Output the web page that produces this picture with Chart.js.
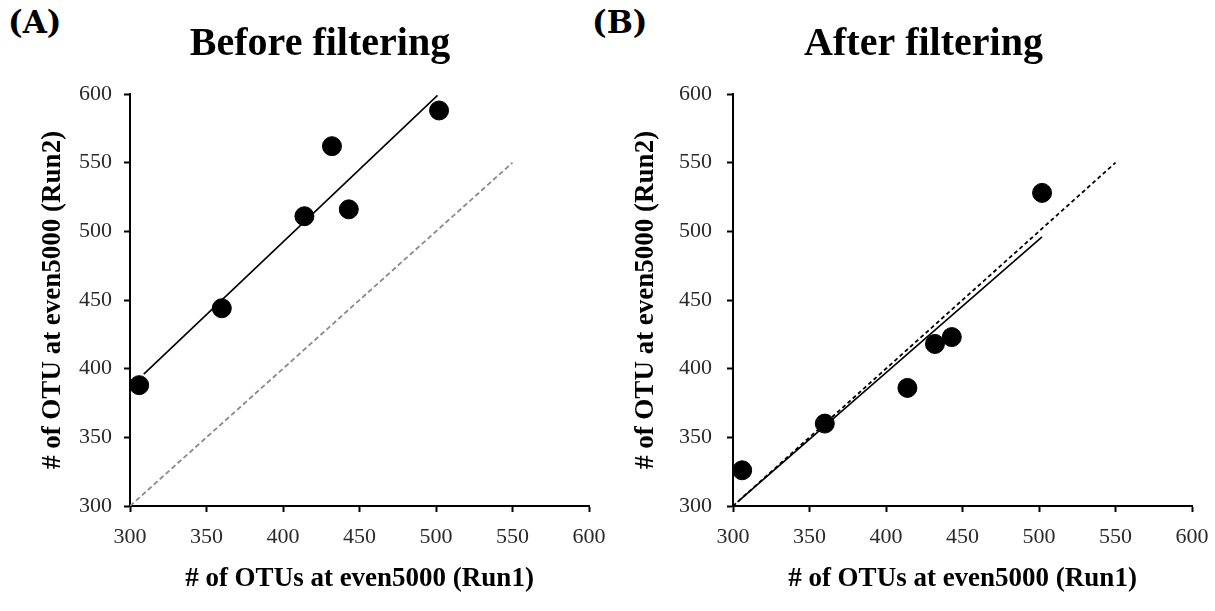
<!DOCTYPE html>
<html>
<head>
<meta charset="utf-8">
<script src="https://cdn.jsdelivr.net/npm/chart.js@4.4.1/dist/chart.umd.min.js"></script>
<style>
  body { margin: 0; background: #fff; width: 1215px; height: 611px; position: relative; overflow: hidden; }
  .panel { position: absolute; top: 0; height: 611px; }
  .tag { position: absolute; top: 4px; font: bold 31px "DejaVu Serif", serif; color: #000; }
</style>
</head>
<body>
<div class="tag" style="left:8px">(A)</div>
<div class="tag" style="left:592px">(B)</div>
<div class="panel" style="left:0px;width:607px"><canvas id="chartA"></canvas></div>
<div class="panel" style="left:607px;width:608px"><canvas id="chartB"></canvas></div>
<script>
// OTU counts per sample
const run1 = [306, 360, 414, 432, 443, 502];
const run2Before = [388, 444, 511, 562, 516, 588];
const run2After = [326, 360, 386, 418, 423, 528];

// trend lines (end points) and the 1:1 line
const fitBeforeX = [309, 501];
const fitBeforeY = [396, 599];
const fitAfterX = [303, 502];
const fitAfterY = [303, 496];
const identityX = [300, 550];
const identityY = [300, 550];

const axisTicks = [300, 350, 400, 450, 500, 550, 600];

const serif = "'Liberation Serif', 'Times New Roman', serif";

function pts(xs, ys) {
  return xs.map((x, i) => ({ x: x, y: ys[i] }));
}

function makeChart(canvas, o) {
  return new Chart(canvas, {
    type: 'scatter',
    data: {
      datasets: [
        {
          label: 'samples',
          data: pts(run1, o.run2),
          backgroundColor: '#000',
          borderColor: '#000',
          pointRadius: 9.5,
          pointHoverRadius: 9.5
        },
        {
          label: 'fit',
          data: pts(o.fitX, o.fitY),
          showLine: true,
          borderColor: '#000',
          borderWidth: 1.6,
          pointRadius: 0
        },
        {
          label: '1:1',
          data: pts(identityX, identityY),
          showLine: true,
          borderColor: o.dashColor,
          borderWidth: 1.8,
          borderDash: o.dash,
          pointRadius: 0
        }
      ]
    },
    options: {
      responsive: true,
      maintainAspectRatio: false,
      animation: false,
      events: [],
      layout: { padding: { left: o.padLeft, right: o.padRight, top: 0, bottom: 0 } },
      plugins: {
        legend: { display: false },
        tooltip: { enabled: false },
        title: {
          display: true,
          text: o.title,
          color: '#000',
          font: { family: serif, size: 40, weight: 'bold' },
          padding: { top: 21, bottom: 25 }
        }
      },
      scales: {
        x: {
          type: 'linear',
          min: 300,
          max: 600,
          afterBuildTicks: s => { s.ticks = axisTicks.map(v => ({ value: v })); },
          afterFit: s => { s.height = 105; s.paddingLeft = 0; s.paddingRight = 0; },
          border: { display: true, color: '#000', width: 2 },
          grid: { drawOnChartArea: false, drawTicks: true, tickLength: 6, tickColor: '#000', tickWidth: 2 },
          ticks: { color: '#2a2a2a', padding: 12, font: { family: serif, size: 22 } },
          title: {
            display: true,
            text: '# of OTUs at even5000 (Run1)',
            color: '#000',
            font: { family: serif, size: 27, weight: 'bold' },
            padding: { top: 0, bottom: 16 }
          }
        },
        y: {
          type: 'linear',
          min: 300,
          max: 600,
          afterBuildTicks: s => { s.ticks = axisTicks.map(v => ({ value: v })); },
          afterFit: s => { s.width = o.yWidth; },
          border: { display: true, color: '#000', width: 2 },
          grid: { drawOnChartArea: false, drawTicks: true, tickLength: 6, tickColor: '#000', tickWidth: 2 },
          ticks: { color: '#2a2a2a', padding: o.yTickPad, font: { family: serif, size: 22 } },
          title: {
            display: true,
            text: '# of OTU at even5000 (Run2)',
            color: '#000',
            font: { family: serif, size: 27, weight: 'bold' },
            padding: { top: o.yTitlePad, bottom: 0 }
          }
        }
      }
    }
  });
}

makeChart(document.getElementById('chartA'), {
  title: 'Before filtering',
  run2: run2Before,
  fitX: fitBeforeX,
  fitY: fitBeforeY,
  dashColor: '#8a8a8a',
  dash: [5, 3],
  padLeft: 51,
  padRight: 18,
  yWidth: 79,
  yTickPad: 12,
  yTitlePad: -14
});

makeChart(document.getElementById('chartB'), {
  title: 'After filtering',
  run2: run2After,
  fitX: fitAfterX,
  fitY: fitAfterY,
  dashColor: '#000',
  dash: [4, 3],
  padLeft: 48,
  padRight: 23,
  yWidth: 78,
  yTickPad: 15,
  yTitlePad: -25
});
</script>
</body>
</html>
